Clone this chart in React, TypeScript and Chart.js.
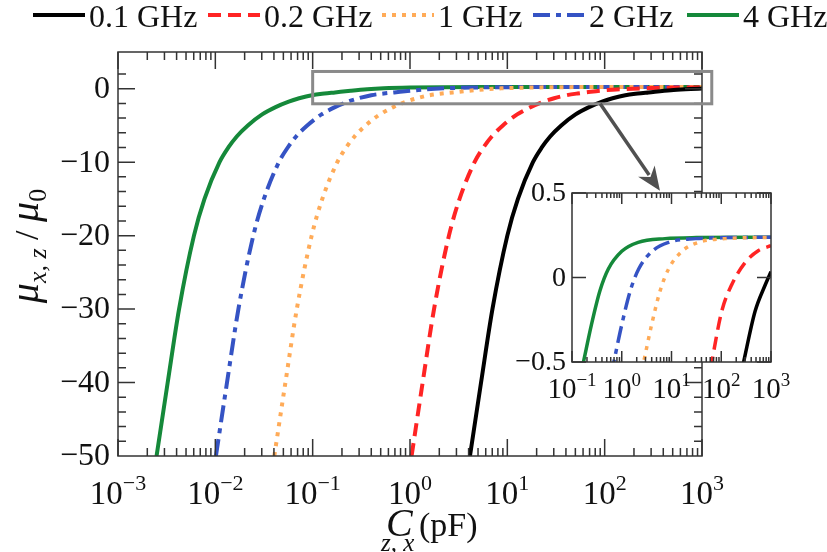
import { useEffect, useRef } from "react";
import { Chart, registerables } from "chart.js";

Chart.register(...registerables);

// Capacitance C (pF) and relative permeability mu/mu0 for each drive frequency
const c01 = [4.13, 5.37, 7.03, 10.0, 12.85, 18.32, 22.59, 27.54, 35.81, 50.23, 69.02, 94.19, 120.5, 162.9, 218.8, 281.8, 478.6, 767.4, 1000];
const mu01 = [-50, -40, -30, -20, -15, -10, -8, -6.5, -5, -3.5, -2.5, -1.75, -1.3, -0.88, -0.65, -0.5, -0.2, -0.043, 0.035];

const c02 = [1.038, 1.349, 1.766, 2.512, 3.228, 4.603, 5.675, 6.918, 8.995, 12.62, 17.34, 23.66, 30.27, 40.93, 52.5, 64.57, 102.3, 162.2, 302, 562, 1000];
const mu02 = [-50, -40, -30, -20, -15, -10, -8, -6.5, -5, -3.5, -2.5, -1.75, -1.3, -0.88, -0.65, -0.5, -0.2, -0.043, 0.088, 0.16, 0.188];

const c1 = [0.04036, 0.05248, 0.06871, 0.09772, 0.1256, 0.1791, 0.2208, 0.2692, 0.3499, 0.4909, 0.6745, 0.9204, 1.178, 1.592, 2.138, 2.754, 3.981, 5.888, 8.71, 16.22, 34.67, 120.2, 512.9, 1000];
const mu1 = [-50, -40, -30, -20, -15, -10, -8, -6.5, -5, -3.5, -2.5, -1.75, -1.3, -0.88, -0.65, -0.5, -0.28, -0.08, 0.05, 0.155, 0.208, 0.23, 0.236, 0.237];

const c2 = [0.01014, 0.01318, 0.01726, 0.02455, 0.03155, 0.04498, 0.05546, 0.06761, 0.0879, 0.1233, 0.1694, 0.2312, 0.2958, 0.4, 0.537, 0.6918, 1.0, 1.479, 2.188, 4.074, 8.71, 30.2, 128.8, 1000];
const mu2 = [-50, -40, -30, -20, -15, -10, -8, -6.5, -5, -3.5, -2.5, -1.75, -1.3, -0.88, -0.65, -0.5, -0.28, -0.08, 0.05, 0.155, 0.208, 0.23, 0.236, 0.238];

const c4 = [0.00249, 0.00324, 0.00424, 0.00603, 0.00774, 0.01104, 0.01361, 0.0166, 0.02158, 0.03027, 0.04159, 0.05675, 0.07261, 0.09817, 0.1318, 0.1698, 0.2455, 0.3631, 0.537, 1.0, 2.138, 7.413, 31.62, 1000];
const mu4 = [-50, -40, -30, -20, -15, -10, -8, -6.5, -5, -3.5, -2.5, -1.75, -1.3, -0.88, -0.65, -0.5, -0.28, -0.08, 0.05, 0.155, 0.208, 0.23, 0.236, 0.238];

const seriesLabels = ["0.1 GHz", "0.2 GHz", "1 GHz", "2 GHz", "4 GHz"];
const seriesC = [c01, c02, c1, c2, c4];
const seriesMu = [mu01, mu02, mu1, mu2, mu4];

// Axis ticks
const mainXExponents = [-3, -2, -1, 0, 1, 2, 3];
const mainYTicks = [0, -10, -20, -30, -40, -50];
const insetXExponents = [-1, 0, 1, 2, 3];
const insetYTicks = [0.5, 0, -0.5];

// Line styles
const COLORS = ["#000000", "#ff2424", "#ffab58", "#3553c4", "#15893a"];
const DASHES: number[][] = [[], [13, 7], [4, 6], [17, 6, 5, 6], []];

const SERIF = '"Liberation Serif", Tinos, "Times New Roman", Times, "Nimbus Roman", "DejaVu Serif", serif';
const AXIS = "#333333";

type Run = { t: string; size: number; italic?: boolean; dy?: number };

function fontOf(size: number, italic?: boolean) {
  return `${italic ? "italic " : ""}${size}px ${SERIF}`;
}

function drawRuns(ctx: CanvasRenderingContext2D, runs: Run[], x: number, y: number, align: "left" | "center" | "right") {
  const widths = runs.map((r) => {
    ctx.font = fontOf(r.size, r.italic);
    return ctx.measureText(r.t).width;
  });
  const total = widths.reduce((a, b) => a + b, 0);
  let cx = align === "center" ? x - total / 2 : align === "right" ? x - total : x;
  ctx.textAlign = "left";
  ctx.textBaseline = "alphabetic";
  runs.forEach((r, i) => {
    ctx.font = fontOf(r.size, r.italic);
    ctx.fillText(r.t, cx, y + (r.dy || 0));
    cx += widths[i];
  });
}

function powerLabel(ctx: CanvasRenderingContext2D, exp: number, x: number, y: number, big: number, small: number, raise: number) {
  const e = exp < 0 ? "\u2212" + Math.abs(exp) : String(exp);
  drawRuns(ctx, [{ t: "10", size: big }, { t: e, size: small, dy: -raise }], x, y, "center");
}

function makeDatasets(width: number) {
  return seriesLabels.map((label, i) => ({
    label,
    data: seriesC[i].map((c, j) => ({ x: c, y: seriesMu[i][j] })),
    borderColor: COLORS[i],
    backgroundColor: COLORS[i],
    borderWidth: width,
    borderDash: DASHES[i],
    borderCapStyle: "butt" as const,
    pointRadius: 0,
    fill: false,
    cubicInterpolationMode: "monotone" as const,
    clip: 0,
  }));
}

const mainDecor = {
  id: "mainDecor",
  afterDraw(chart: any) {
    const ctx: CanvasRenderingContext2D = chart.ctx;
    const { left, right, top, bottom } = chart.chartArea;
    const xs = chart.scales.x;
    const ys = chart.scales.y;
    ctx.save();

    // frame and inward ticks
    ctx.strokeStyle = AXIS;
    ctx.lineWidth = 1.5;
    ctx.strokeRect(left, top, right - left, bottom - top);
    ctx.beginPath();
    for (const k of mainXExponents) {
      const p = xs.getPixelForValue(Math.pow(10, k));
      ctx.moveTo(p, bottom); ctx.lineTo(p, bottom - 17);
      ctx.moveTo(p, top); ctx.lineTo(p, top + 17);
      if (k < 3) {
        for (let m = 2; m <= 9; m++) {
          const q = xs.getPixelForValue(m * Math.pow(10, k));
          ctx.moveTo(q, bottom); ctx.lineTo(q, bottom - 8);
          ctx.moveTo(q, top); ctx.lineTo(q, top + 8);
        }
      }
    }
    for (let v = -48; v <= 2; v += 2) {
      const p = ys.getPixelForValue(v);
      const len = v % 10 === 0 ? 17 : 8;
      ctx.moveTo(left, p); ctx.lineTo(left + len, p);
      ctx.moveTo(right, p); ctx.lineTo(right - len, p);
    }
    ctx.stroke();

    // tick labels
    ctx.fillStyle = "#111111";
    for (const k of mainXExponents) {
      powerLabel(ctx, k, xs.getPixelForValue(Math.pow(10, k)), 504, 33, 22, 14);
    }
    for (const v of mainYTicks) {
      const s = v < 0 ? "\u2212" + Math.abs(v) : String(v);
      ctx.font = fontOf(32);
      ctx.textAlign = "right";
      ctx.textBaseline = "middle";
      ctx.fillText(s, 110, ys.getPixelForValue(v) + 1);
    }

    // axis titles
    ctx.textAlign = "left";
    ctx.textBaseline = "alphabetic";
    ctx.font = fontOf(40, true);
    ctx.fillText("C", 386, 536);
    ctx.font = fontOf(25, true);
    ctx.fillText("z, x", 381, 551);
    ctx.font = fontOf(34);
    ctx.fillText("(pF)", 419, 536);

    ctx.save();
    ctx.translate(38, 246);
    ctx.rotate(-Math.PI / 2);
    drawRuns(
      ctx,
      [
        { t: "\u03bc", size: 40, italic: true },
        { t: "x, z", size: 26, italic: true, dy: 8 },
        { t: " / ", size: 34 },
        { t: "\u03bc", size: 40, italic: true },
        { t: "0", size: 26, dy: 8 },
      ],
      0,
      0,
      "center"
    );
    ctx.restore();

    // legend
    const lineStarts = [33, 208, 382, 533, 687];
    seriesLabels.forEach((label, i) => {
      const x0 = lineStarts[i];
      ctx.save();
      ctx.strokeStyle = COLORS[i];
      ctx.lineWidth = 4;
      ctx.setLineDash(DASHES[i]);
      ctx.beginPath();
      ctx.moveTo(x0, 15);
      ctx.lineTo(x0 + 52, 15);
      ctx.stroke();
      ctx.restore();
      ctx.fillStyle = "#111111";
      ctx.font = fontOf(32);
      ctx.textAlign = "left";
      ctx.textBaseline = "alphabetic";
      ctx.fillText(label, x0 + 56, 27);
    });

    // zoom window and arrow toward the inset
    const bx0 = xs.getPixelForValue(0.1);
    const bx1 = xs.getPixelForValue(1260);
    const by0 = ys.getPixelForValue(2.35);
    const by1 = ys.getPixelForValue(-2.05);
    ctx.strokeStyle = "#8a8a8a";
    ctx.lineWidth = 3;
    ctx.strokeRect(bx0, by0, bx1 - bx0, by1 - by0);

    const ax0 = xs.getPixelForValue(90);
    const ay0 = by1;
    const ax1 = xs.getPixelForValue(370);
    const ay1 = ys.getPixelForValue(-13.9);
    const dx = ax1 - ax0;
    const dy = ay1 - ay0;
    const len = Math.hypot(dx, dy);
    const ux = dx / len;
    const uy = dy / len;
    const head = 24;
    const half = 10;
    ctx.strokeStyle = "#505050";
    ctx.fillStyle = "#505050";
    ctx.lineWidth = 3.5;
    ctx.beginPath();
    ctx.moveTo(ax0, ay0);
    ctx.lineTo(ax1 - ux * head * 0.8, ay1 - uy * head * 0.8);
    ctx.stroke();
    ctx.beginPath();
    ctx.moveTo(ax1, ay1);
    ctx.lineTo(ax1 - ux * head - uy * half, ay1 - uy * head + ux * half);
    ctx.lineTo(ax1 - ux * head * 0.7, ay1 - uy * head * 0.7);
    ctx.lineTo(ax1 - ux * head + uy * half, ay1 - uy * head - ux * half);
    ctx.closePath();
    ctx.fill();

    ctx.restore();
  },
};

const insetDecor = {
  id: "insetDecor",
  beforeDatasetsDraw(chart: any) {
    const ctx: CanvasRenderingContext2D = chart.ctx;
    const { left, right, top, bottom } = chart.chartArea;
    ctx.save();
    ctx.fillStyle = "#ffffff";
    ctx.fillRect(left, top, right - left, bottom - top);
    ctx.restore();
  },
  afterDraw(chart: any) {
    const ctx: CanvasRenderingContext2D = chart.ctx;
    const { left, right, top, bottom } = chart.chartArea;
    const xs = chart.scales.x;
    const ys = chart.scales.y;
    ctx.save();
    ctx.strokeStyle = AXIS;
    ctx.lineWidth = 1.5;
    ctx.strokeRect(left, top, right - left, bottom - top);
    ctx.beginPath();
    for (const k of insetXExponents) {
      const p = xs.getPixelForValue(Math.pow(10, k));
      ctx.moveTo(p, bottom); ctx.lineTo(p, bottom - 11);
      ctx.moveTo(p, top); ctx.lineTo(p, top + 11);
      if (k < 3) {
        for (let m = 2; m <= 9; m++) {
          const q = xs.getPixelForValue(m * Math.pow(10, k));
          ctx.moveTo(q, bottom); ctx.lineTo(q, bottom - 5);
          ctx.moveTo(q, top); ctx.lineTo(q, top + 5);
        }
      }
    }
    for (const v of insetYTicks) {
      const p = ys.getPixelForValue(v);
      ctx.moveTo(left, p); ctx.lineTo(left + 14, p);
      ctx.moveTo(right, p); ctx.lineTo(right - 14, p);
    }
    ctx.stroke();

    ctx.fillStyle = "#111111";
    for (const k of insetXExponents) {
      powerLabel(ctx, k, xs.getPixelForValue(Math.pow(10, k)), 228, 29, 19, 12);
    }
    for (const v of insetYTicks) {
      const s = v < 0 ? "\u2212" + Math.abs(v) : String(v);
      ctx.font = fontOf(28);
      ctx.textAlign = "right";
      ctx.textBaseline = "middle";
      ctx.fillText(s, 66, ys.getPixelForValue(v) + 1);
    }
    ctx.restore();
  },
};

function hiddenAxis(type: "logarithmic" | "linear", min: number, max: number, fit: (s: any) => void) {
  return {
    type,
    min,
    max,
    ticks: { display: false },
    grid: { display: false },
    border: { display: false },
    afterFit: fit,
  };
}

export default function App() {
  const mainRef = useRef<HTMLCanvasElement>(null);
  const insetRef = useRef<HTMLCanvasElement>(null);

  useEffect(() => {
    document.body.style.margin = "0";
    let main: Chart | null = null;
    let inset: Chart | null = null;
    let disposed = false;

    const build = () => {
      if (disposed) return;
      main = new Chart(mainRef.current as HTMLCanvasElement, {
        type: "line",
        data: { datasets: makeDatasets(4) as any },
        options: {
          animation: false,
          responsive: false,
          parsing: false as any,
          layout: { padding: { left: 0, right: 125, top: 52, bottom: 0 } },
          plugins: { legend: { display: false }, tooltip: { enabled: false } },
          scales: {
            x: hiddenAxis("logarithmic", 1e-3, 1e3, (s) => { s.height = 96; }) as any,
            y: hiddenAxis("linear", -50, 5, (s) => { s.width = 118; }) as any,
          },
        },
        plugins: [mainDecor],
      });
      inset = new Chart(insetRef.current as HTMLCanvasElement, {
        type: "line",
        data: { datasets: makeDatasets(3.5) as any },
        options: {
          animation: false,
          responsive: false,
          parsing: false as any,
          layout: { padding: { left: 0, right: 29, top: 23, bottom: 0 } },
          plugins: { legend: { display: false }, tooltip: { enabled: false } },
          scales: {
            x: hiddenAxis("logarithmic", 1e-1, 1e3, (s) => { s.height = 48; }) as any,
            y: hiddenAxis("linear", -0.5, 0.5, (s) => { s.width = 72; }) as any,
          },
        },
        plugins: [insetDecor],
      });
    };

    const fonts = (document as any).fonts;
    if (fonts && fonts.load) {
      Promise.all([fonts.load(fontOf(30)), fonts.load(fontOf(30, true))])
        .catch(() => null)
        .then(build);
    } else {
      build();
    }

    return () => {
      disposed = true;
      if (main) main.destroy();
      if (inset) inset.destroy();
    };
  }, []);

  return (
    <div style={{ position: "relative", width: 827, height: 552 }}>
      <canvas
        ref={mainRef}
        width={827}
        height={552}
        style={{ position: "absolute", left: 0, top: 0, width: 827, height: 552 }}
      />
      <canvas
        ref={insetRef}
        width={300}
        height={240}
        style={{ position: "absolute", left: 500, top: 170, width: 300, height: 240 }}
      />
    </div>
  );
}
